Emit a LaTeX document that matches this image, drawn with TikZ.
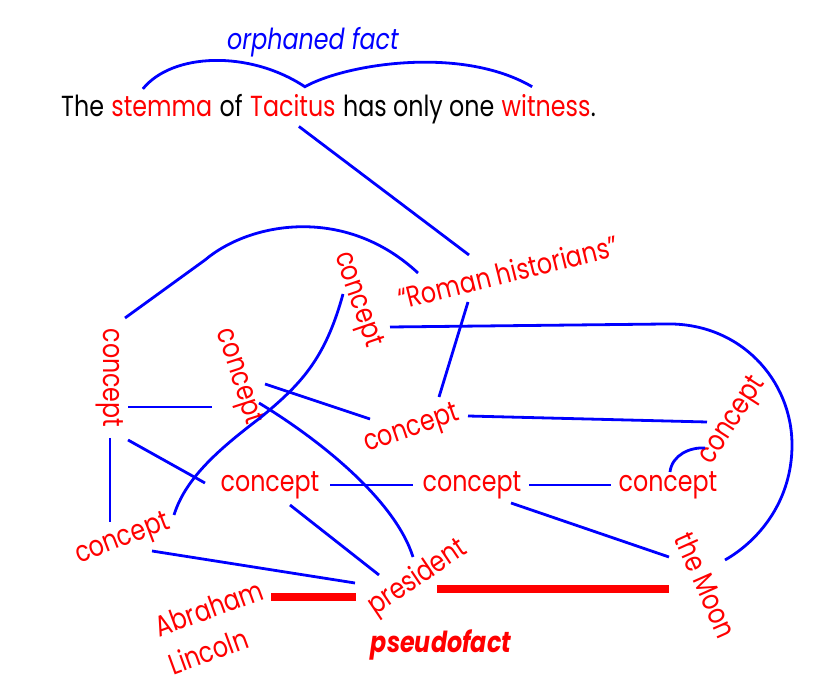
\documentclass[tikz,border=0pt]{standalone}
\usepackage{fontspec}
\setmainfont{Poppins}[FakeStretch=0.82]
\usetikzlibrary{calc}
\newcommand\fs{\fontsize{29}{40}\selectfont}
\begin{document}
\begin{tikzpicture}[x=1pt,y=-1pt,
  wd/.style={anchor=base west,inner sep=0pt,font=\fs},
  cpt/.style={text=red,font=\fs,inner sep=1pt},
  conn/.style={draw=blue,line width=2.8pt},
  fact/.style={draw=red,line width=8pt}]
\useasboundingbox (0,0) rectangle (823,684);
% sentence
\node[wd] (w1) at (61,117) {The};
\node[wd,text=red] (stemma) at ([xshift=7]w1.base east) {stemma};
\node[wd] (w3) at ([xshift=7]stemma.base east) {of};
\node[wd,text=red] (Tacitus) at ([xshift=7]w3.base east) {Tacitus};
\node[wd] (w5) at ([xshift=7]Tacitus.base east) {has only one};
\node[wd,text=red] (witness) at ([xshift=7]w5.base east) {witness};
\node[wd] (dot) at (witness.base east) {.};
\node[font=\fs\itshape,text=blue] (orph) at (313,42) {orphaned fact};
% brace
\draw[conn] ($(stemma.north)+(-19,-8)$) .. controls +(29,-36) and +(-56,-37) .. ($(Tacitus.north)+(12,-8)$)
  .. controls +(39,-22) and +(-72,-42) .. ($(witness.north)+(-14,-8)$);
% nodes
\node[cpt,rotate=14] (roman) at (508,272) {“Roman historians”};
\node[cpt,rotate=-90] (c1) at (110,378) {concept};
\node[cpt,rotate=-72] (c2) at (238,377) {concept};
\node[cpt,rotate=-71] (c3) at (357,300) {concept};
\node[cpt,rotate=19] (c4) at (412,430) {concept};
\node[cpt,rotate=57] (c5) at (733,421) {concept};
\node[cpt] (c6) at (668,485) {concept};
\node[cpt] (c7) at (472,485) {concept};
\node[cpt] (c8) at (270,485) {concept};
\node[cpt,rotate=21] (c9) at (123,540) {concept};
\node[cpt,rotate=34] (pres) at (418,578) {president};
\node[cpt,rotate=-66] (moon) at (706,585) {the Moon};
\node[cpt,rotate=20,align=left] (ab) at (216,627) {Abraham\\Lincoln};
\node[font=\fs\bfseries\itshape,text=red] (pf) at (441,645) {pseudofact};
% connectors
\draw[conn] ($(Tacitus.south)+(6,9)$) -- ($(roman)+(-39,-17)$);
\draw[conn] ($(c1)+(15,-60)$) -- ++(80,-58) .. controls +(45,-38) and +(-73,-68) .. ($(roman)+(-90,1)$);
\draw[conn] ($(c3)+(33,27)$) -- ++(275,-3) .. controls +(75,-2) and +(0,-65) .. ++(127,121)
  .. controls +(0,55) and +(35,-20) .. ($(moon)+(19,-25)$);
\draw[conn] ($(c1)+(18,29)$) -- ($(c2)+(-26,30)$);
\draw[conn] ($(c1)+(18,62)$) -- ($(c8)+(-65,-2)$);
\draw[conn] ($(c1)+(0,60)$) -- ($(c9)+(-13,-18)$);
\draw[conn] ($(c2)+(27,7)$) -- ($(c4)+(-42,-11)$);
\draw[conn] ($(c2)+(21,26)$) .. controls +(61,37) and +(-18,-57) .. ($(pres)+(-5,-21)$);
\draw[conn] ($(c3)+(-14,-6)$) .. controls +(-18,66) and +(40,-33) .. ++(-83,124)
  .. controls +(-45,34) and +(11,-35) .. ($(c9)+(51,-25)$);
\draw[conn] ($(roman)+(-40,30)$) -- ($(c4)+(27,-33)$);
\draw[conn] ($(c4)+(56,-14)$) -- ($(c5)+(-26,1)$);
\draw[conn] ($(c8)+(60,0)$) -- ($(c7)+(-59,0)$);
\draw[conn] ($(c7)+(57,0)$) -- ($(c6)+(-57,0)$);
\draw[conn] ($(c7)+(39,18)$) -- ($(moon)+(-37,-28)$);
\draw[conn] ($(c8)+(20,20)$) -- ($(pres)+(-39,-3)$);
\draw[conn] ($(c9)+(29,11)$) -- ($(pres)+(-63,5)$);
\draw[conn] ($(c6)+(2,-13)$) .. controls +(2,-17) and +(-15,-1) .. ($(c5)+(-28,27)$);
\draw[fact] ($(ab)+(55,-30)$) -- ($(pres)+(-62,19)$);
\draw[fact] ($(pres)+(19,11)$) -- ($(moon)+(-37,4)$);
\end{tikzpicture}
\end{document}
